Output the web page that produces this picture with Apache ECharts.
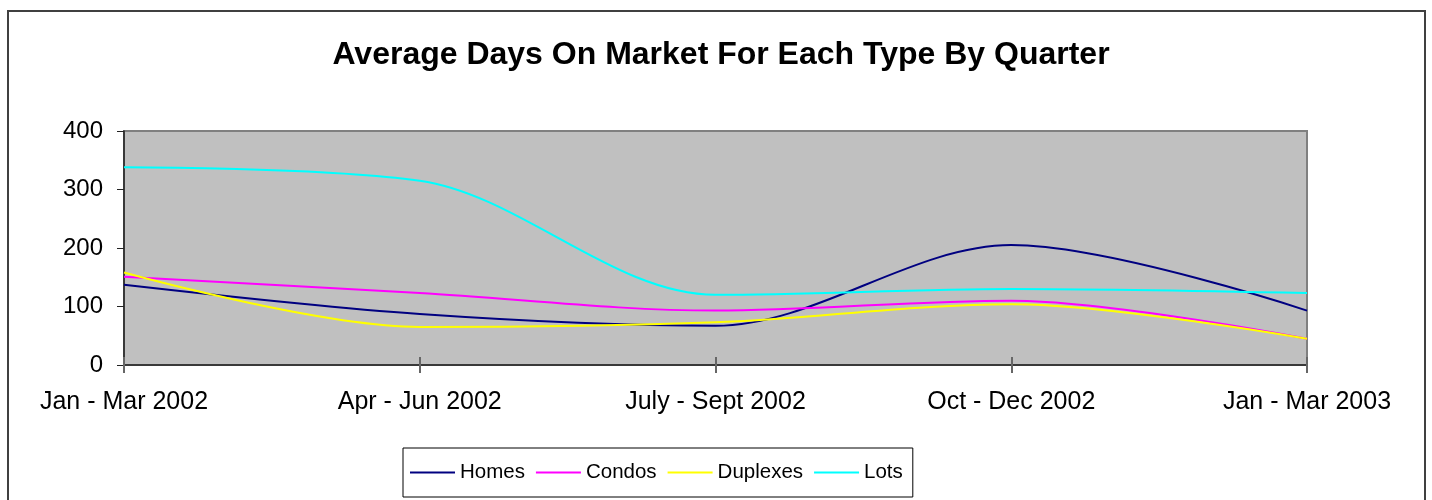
<!DOCTYPE html>
<html>
<head>
<meta charset="utf-8">
<script src="https://cdn.jsdelivr.net/npm/echarts@6/dist/echarts.min.js"></script>
<style>
  html, body { margin: 0; padding: 0; background: #fff; }
  #chart { width: 1432px; height: 500px; }
</style>
</head>
<body>
<div id="chart"></div>
<script>
const quarters = ['Jan - Mar 2002', 'Apr - Jun 2002', 'July - Sept 2002', 'Oct - Dec 2002', 'Jan - Mar 2003']
const homes = [137, 87, 67, 205, 93]
const condos = [151, 123, 93, 110, 45]
const duplexes = [158, 65, 73, 104, 45]
const lots = [338, 315, 120, 130, 123]
const yTicks = [0, 100, 200, 300, 400]

const font = '"Liberation Sans", Arial, sans-serif'
const chart = echarts.init(document.getElementById('chart'))

const line = (name, data, color) => ({
  name,
  type: 'line',
  data,
  smooth: 0.33,
  symbol: 'none',
  lineStyle: { width: 2, color },
  itemStyle: { color },
})

chart.setOption({
  animation: false,
  title: {
    text: 'Average Days On Market For Each Type By Quarter',
    left: 716,
    top: 34,
    textAlign: 'center',
    textStyle: { fontFamily: font, fontSize: 32, fontWeight: 'bold', color: '#000' },
  },
  graphic: [
    {
      type: 'rect',
      shape: { x: 8, y: 11, width: 1417, height: 500 },
      style: { fill: 'none', stroke: '#404040', lineWidth: 2 },
      z: -1,
    },
  ],
  legend: {
    left: 403,
    top: 448,
    itemWidth: 45,
    itemHeight: 2,
    itemGap: 11,
    icon: 'rect',
    padding: [14, 10, 14, 7],
    borderColor: '#000',
    borderWidth: 1,
    textStyle: { fontFamily: font, fontSize: 20.5, color: '#000' },
  },
  grid: {
    left: 124,
    top: 131,
    right: 1432 - 1307,
    bottom: 500 - 365,
    show: true,
    backgroundColor: '#c0c0c0',
    borderColor: '#808080',
    borderWidth: 2,
  },
  xAxis: [
    {
      type: 'category',
      data: quarters,
      boundaryGap: false,
      axisLine: { lineStyle: { color: '#222', width: 1.5 } },
      axisTick: { show: true, length: 8, lineStyle: { color: '#666', width: 2 } },
      axisLabel: { fontFamily: font, fontSize: 25, color: '#000', margin: 25, interval: 0 },
    },
    {
      type: 'category',
      data: quarters,
      boundaryGap: false,
      position: 'bottom',
      axisLine: { show: false },
      axisTick: { show: true, inside: true, length: 8, lineStyle: { color: '#666', width: 2 } },
      axisLabel: { show: false },
    },
  ],
  yAxis: {
    type: 'value',
    min: yTicks[0],
    max: yTicks[yTicks.length - 1],
    interval: 100,
    splitLine: { show: false },
    axisLine: { show: true, lineStyle: { color: '#222', width: 1.5 } },
    axisTick: { show: true, length: 7, lineStyle: { color: '#222' } },
    axisLabel: { fontFamily: font, fontSize: 24, color: '#000', margin: 21 },
  },
  series: [
    line('Homes', homes, '#000080'),
    line('Condos', condos, '#ff00ff'),
    line('Duplexes', duplexes, '#ffff00'),
    line('Lots', lots, '#00ffff'),
  ],
})
</script>
</body>
</html>
